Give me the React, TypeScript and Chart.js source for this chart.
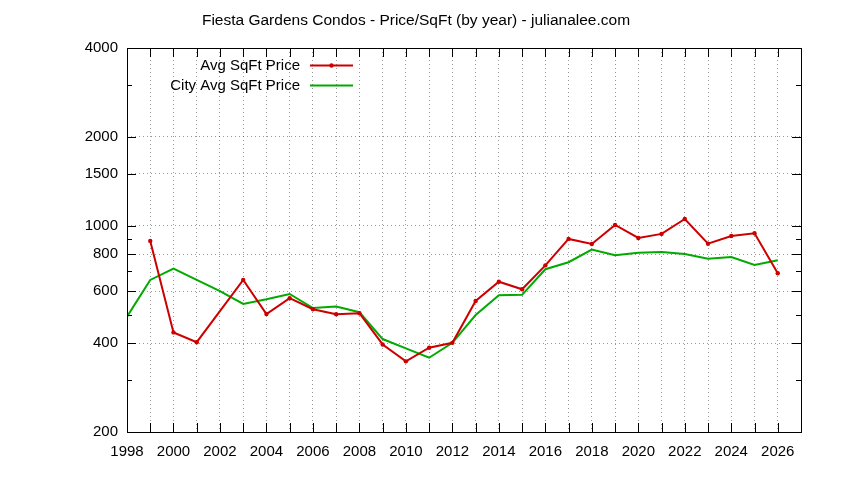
import React, { useEffect, useRef } from "react";
import { Chart, registerables } from "chart.js";

Chart.register(...registerables);

const years = [
  1998, 1999, 2000, 2001, 2002, 2003, 2004, 2005, 2006, 2007, 2008, 2009, 2010,
  2011, 2012, 2013, 2014, 2015, 2016, 2017, 2018, 2019, 2020, 2021, 2022, 2023,
  2024, 2025, 2026,
];
// 2002 has no sale data; gnuplot just joins 2001 to 2003
const avgPrice = [
  null, 888, 435, 403, null, 655, 502, 568, 521, 501, 505, 396, 347, 386, 401,
  556, 646, 609, 734, 902, 867, 1006, 909, 938, 1054, 869, 923, 943, 690,
];
const cityAvgPrice = [
  492, 655, 715, 655, 600, 543, 563, 587, 526, 532, 509, 413, 384, 357, 401,
  498, 581, 583, 712, 752, 830, 794, 810, 815, 802, 773, 783, 736, 764,
];

const yTicks = [200, 300, 400, 500, 600, 700, 800, 900, 1000, 1500, 2000, 3000, 4000];
const yLabels = [200, 400, 600, 800, 1000, 1500, 2000, 4000];
const yGrid = [400, 600, 800, 1000, 1500, 2000];

const title = "Fiesta Gardens Condos - Price/SqFt (by year) - julianalee.com";
const seriesNames = ["Avg SqFt Price", "City Avg SqFt Price"];
const RED = "#cc0000";
const GREEN = "#00aa00";
const FONT = "Liberation Sans";

const gnuplotFrame = {
  id: "gnuplotFrame",
  afterDraw(chart: any) {
    const { ctx, chartArea: a, scales } = chart;
    ctx.save();
    ctx.strokeStyle = "#000";
    ctx.lineWidth = 1;
    ctx.strokeRect(a.left + 0.5, a.top + 0.5, a.right - a.left, a.bottom - a.top);

    // inward ticks, mirrored on both sides
    ctx.beginPath();
    scales.x.ticks.forEach((t: any) => {
      const px = Math.round(scales.x.getPixelForValue(t.value)) + 0.5;
      ctx.moveTo(px, a.bottom);
      ctx.lineTo(px, a.bottom - 9);
      ctx.moveTo(px, a.top);
      ctx.lineTo(px, a.top + 9);
    });
    yTicks.forEach((v) => {
      const py = Math.round(scales.y.getPixelForValue(v)) + 0.5;
      const len = yLabels.includes(v) ? 9 : 5;
      ctx.moveTo(a.left, py);
      ctx.lineTo(a.left + len, py);
      ctx.moveTo(a.right, py);
      ctx.lineTo(a.right - len, py);
    });
    ctx.stroke();

    // title
    ctx.fillStyle = "#000";
    ctx.font = `15.5px "${FONT}"`;
    ctx.textAlign = "center";
    ctx.textBaseline = "middle";
    ctx.fillText(title, 416, 20.5);

    // key, gnuplot style: right aligned text then sample
    ctx.font = `15px "${FONT}"`;
    ctx.textAlign = "right";
    chart.data.datasets.forEach((ds: any, i: number) => {
      const y = 66 + i * 20;
      ctx.fillStyle = "#000";
      ctx.fillText(ds.label, 300, y);
      ctx.strokeStyle = ds.borderColor;
      ctx.lineWidth = 2;
      ctx.beginPath();
      ctx.moveTo(310, y - 0.5);
      ctx.lineTo(353, y - 0.5);
      ctx.stroke();
      if (ds.pointRadius > 0) {
        ctx.fillStyle = ds.borderColor;
        ctx.beginPath();
        ctx.arc(331.5, y - 0.5, ds.pointRadius, 0, Math.PI * 2);
        ctx.fill();
      }
    });
    ctx.restore();
  },
};

const App = () => {
  const canvasEl = useRef<HTMLCanvasElement>(null);

  useEffect(() => {
    const ctx = canvasEl.current!.getContext("2d")!;
    const chart = new Chart(ctx, {
      type: "line",
      data: {
        datasets: [
          {
            label: seriesNames[0],
            data: years.map((x, i) => ({ x, y: avgPrice[i] })),
            borderColor: RED,
            backgroundColor: RED,
            borderWidth: 2,
            pointRadius: 2.2,
            pointBorderWidth: 0,
            pointHoverRadius: 2.2,
            spanGaps: true,
          },
          {
            label: seriesNames[1],
            data: years.map((x, i) => ({ x, y: cityAvgPrice[i] })),
            borderColor: GREEN,
            backgroundColor: GREEN,
            borderWidth: 2,
            pointRadius: 0,
          },
        ],
      },
      plugins: [gnuplotFrame],
      options: {
        responsive: false,
        animation: false,
        layout: { padding: { top: 48, right: 43, left: 0, bottom: 0 } },
        plugins: {
          legend: { display: false },
          title: { display: false },
          tooltip: { enabled: false },
        },
        scales: {
          x: {
            type: "linear",
            min: 1998,
            max: 2027,
            afterFit: (s: any) => {
              s.height = 48;
            },
            ticks: {
              stepSize: 1,
              autoSkip: false,
              maxRotation: 0,
              padding: 11,
              color: "#000",
              font: { family: FONT, size: 15 },
              callback: (v: any) => (v % 2 === 0 && v < 2027 ? String(v) : ""),
            },
            grid: {
              drawTicks: false,
              color: (c: any) =>
                c.tick && c.tick.value > 1998 && c.tick.value < 2027
                  ? "rgba(0,0,0,0.4)"
                  : "rgba(0,0,0,0)",
            },
            border: { display: false, dash: [1, 3] },
          },
          y: {
            type: "logarithmic",
            min: 200,
            max: 4000,
            afterFit: (s: any) => {
              s.width = 127;
            },
            afterBuildTicks: (s: any) => {
              s.ticks = yTicks.map((value) => ({ value }));
            },
            ticks: {
              autoSkip: false,
              padding: 9,
              color: "#000",
              font: { family: FONT, size: 15 },
              callback: (v: any) => (yLabels.includes(v) ? String(v) : ""),
            },
            grid: {
              drawTicks: false,
              color: (c: any) =>
                c.tick && yGrid.includes(c.tick.value)
                  ? "rgba(0,0,0,0.4)"
                  : "rgba(0,0,0,0)",
            },
            border: { display: false, dash: [1, 3] },
          },
        },
      },
    } as any);

    return () => {
      chart.destroy();
    };
  }, []);

  return (
    <div style={{ position: "absolute", left: 0, top: 0, width: 844, height: 480, background: "#fff" }}>
      <canvas ref={canvasEl} width={844} height={480}></canvas>
    </div>
  );
};

export default App;
